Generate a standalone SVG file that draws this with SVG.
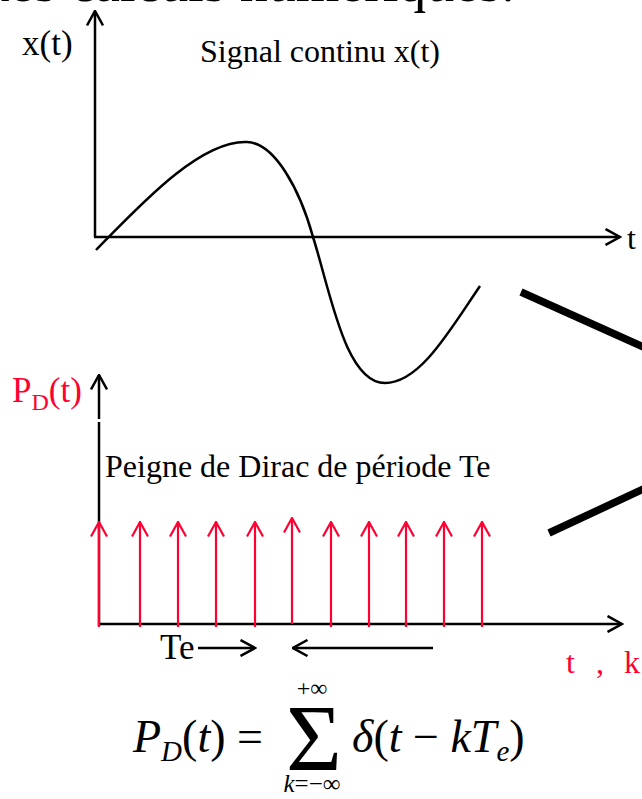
<svg xmlns="http://www.w3.org/2000/svg" width="642" height="799" viewBox="0 0 642 799">
<style>
text{font-family:"Liberation Serif","Times New Roman",serif;}
.ax{fill:none;stroke:#000;stroke-width:2.5;}
.red{fill:none;stroke:#ff0033;stroke-width:2.2;}
.lbl{font-size:32px;fill:#000;}
.rlbl{font-size:32px;fill:#ff0033;}
.thick{fill:none;stroke:#000;stroke-width:7.5;}
.math{font-size:46px;fill:#000;}
.it{font-style:italic;}
</style>
<defs>
<marker id="ah" viewBox="0 0 17 18" refX="15.5" refY="9" markerWidth="17" markerHeight="18" markerUnits="userSpaceOnUse" orient="auto">
<path d="M1,1 L15.5,9 L1,17" fill="none" stroke="#000" stroke-width="2.5"/>
</marker>
<marker id="ahr" viewBox="0 0 17 18" refX="15.5" refY="9" markerWidth="17" markerHeight="18" markerUnits="userSpaceOnUse" orient="auto">
<path d="M1,1 L15.5,9 L1,17" fill="none" stroke="#ff0033" stroke-width="2.2"/>
</marker>
</defs>
<rect width="642" height="799" fill="#fff"/>

<g id="title">
<text x="515" y="1" text-anchor="end" style="font-size:56px">des calculs numériques.</text>
</g>

<g id="signal-graph">
<line class="ax" x1="95" y1="237" x2="95" y2="11" marker-end="url(#ah)"/>
<line class="ax" x1="94" y1="237" x2="620" y2="237" marker-end="url(#ah)"/>
<text class="lbl" x="22" y="55" style="font-size:35px">x(t)</text>
<text class="lbl" x="627" y="249">t</text>
<text class="lbl" x="200" y="62">Signal continu x(t)</text>
<path class="ax" d="M96,250 C140,205 200,140 247,142 C275,143 300,190 313,237 C330,290 345,383 385,383 C420,383 450,330 480,286"/>
</g>

<g id="dirac-comb">
<line class="ax" x1="99" y1="626" x2="99" y2="422"/>
<line class="ax" x1="99" y1="419" x2="99" y2="375" marker-end="url(#ah)"/>
<line class="ax" x1="98" y1="624" x2="622" y2="624" marker-end="url(#ah)"/>
<text class="rlbl" x="12" y="402" style="font-size:35px">P<tspan dy="8" style="font-size:24px">D</tspan><tspan dy="-8">(t)</tspan></text>
<text class="lbl" x="105" y="477">Peigne de Dirac de période Te</text>
<g id="impulses">
<line class="red" x1="99" y1="627" x2="99" y2="522" marker-end="url(#ahr)"/>
<line class="red" x1="140" y1="627" x2="140" y2="522" marker-end="url(#ahr)"/>
<line class="red" x1="178" y1="627" x2="178" y2="522" marker-end="url(#ahr)"/>
<line class="red" x1="216" y1="627" x2="216" y2="522" marker-end="url(#ahr)"/>
<line class="red" x1="255" y1="627" x2="255" y2="522" marker-end="url(#ahr)"/>
<line class="red" x1="292" y1="624" x2="292" y2="518" marker-end="url(#ahr)"/>
<line class="red" x1="331" y1="627" x2="331" y2="522" marker-end="url(#ahr)"/>
<line class="red" x1="369" y1="627" x2="369" y2="522" marker-end="url(#ahr)"/>
<line class="red" x1="406" y1="627" x2="406" y2="522" marker-end="url(#ahr)"/>
<line class="red" x1="444" y1="627" x2="444" y2="522" marker-end="url(#ahr)"/>
<line class="red" x1="482" y1="627" x2="482" y2="522" marker-end="url(#ahr)"/>
</g>
<text class="lbl" x="160" y="659" style="font-size:35px">Te</text>
<line class="ax" x1="198" y1="648" x2="255" y2="648" marker-end="url(#ah)"/>
<line class="ax" x1="433" y1="648" x2="293" y2="648" marker-end="url(#ah)"/>
<text class="rlbl" y="673"><tspan x="566">t</tspan><tspan x="596">,</tspan><tspan x="624">k</tspan></text>
</g>

<g id="formula">
<text class="math" x="133" y="752"><tspan class="it">P</tspan><tspan class="it" dy="9" style="font-size:29px">D</tspan><tspan dy="-9">(</tspan><tspan class="it">t</tspan><tspan>) =</tspan></text>
<text x="286" y="771" style="font-size:96px">Σ</text>
<text x="312" y="696" text-anchor="middle" style="font-size:24px">+∞</text>
<text x="312" y="792" text-anchor="middle" style="font-size:25px"><tspan class="it">k</tspan>=−∞</text>
<text class="math" x="352" y="752"><tspan class="it">δ</tspan>(<tspan class="it">t</tspan> − <tspan class="it">kT</tspan><tspan class="it" dy="9" style="font-size:29px">e</tspan><tspan dy="-9">)</tspan></text>
</g>

<g id="connectors">
<line class="thick" x1="521" y1="292" x2="650" y2="350"/>
<line class="thick" x1="549" y1="533" x2="650" y2="486"/>
</g>
</svg>
